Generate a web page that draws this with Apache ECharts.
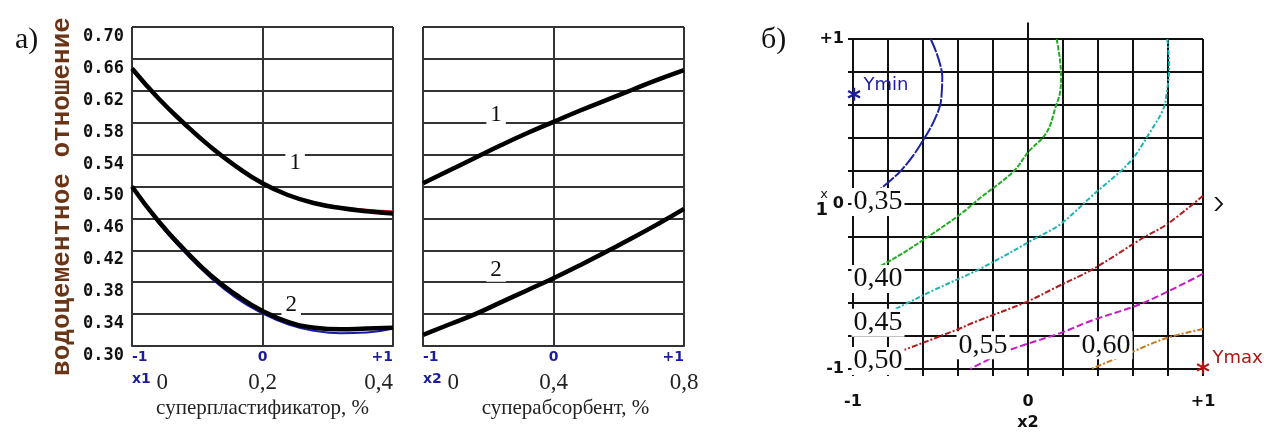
<!DOCTYPE html>
<html>
<head>
<meta charset="utf-8">
<script src="https://cdn.jsdelivr.net/npm/echarts@6/dist/echarts.min.js"></script>
<style>
html,body{margin:0;padding:0;background:#fff;}
#chart{width:1264px;height:436px;}
</style>
</head>
<body>
<div id="chart"></div>
<script>
// ---- data ----
const xs = [-1, -0.8, -0.6, -0.4, -0.2, 0, 0.2, 0.4, 0.6, 0.8, 1];
// panel a, left: superplasticizer
const spCurve1    = [0.648, 0.611, 0.579, 0.550, 0.525, 0.504, 0.489, 0.479, 0.473, 0.469, 0.466];
const spCurve1Fit = [0.648, 0.612, 0.580, 0.551, 0.526, 0.505, 0.490, 0.480, 0.474, 0.471, 0.469];
const spCurve2    = [0.500, 0.457, 0.421, 0.389, 0.364, 0.344, 0.330, 0.323, 0.321, 0.322, 0.323];
const spCurve2Fit = [0.500, 0.455, 0.418, 0.386, 0.360, 0.341, 0.327, 0.319, 0.316, 0.317, 0.322];
// panel a, right: superabsorbent
const saCurve1    = [0.504, 0.520, 0.536, 0.552, 0.567, 0.581, 0.595, 0.608, 0.621, 0.634, 0.646];
const saCurve1Fit = [0.503, 0.519, 0.535, 0.551, 0.566, 0.580, 0.594, 0.607, 0.620, 0.633, 0.646];
const saCurve2    = [0.314, 0.327, 0.340, 0.355, 0.370, 0.385, 0.401, 0.418, 0.435, 0.453, 0.472];
const saCurve2Fit = [0.314, 0.327, 0.341, 0.356, 0.371, 0.386, 0.402, 0.419, 0.436, 0.454, 0.472];

const curveNames = ['1', '2'];
const spCurveLabelX = [0.25, 0.22], spCurveLabelY = [0.529, 0.351];
const saCurveLabelX = [-0.44, -0.44], saCurveLabelY = [0.590, 0.395];

const codedTicks = [-1, 0, 1];
const codedTickLabels = ['-1', '0', '+1'];
const spNatural = ['0', '0,2', '0,4'];
const saNatural = ['0', '0,4', '0,8'];
const factorNames = ['x1', 'x2'];
const yTitle = 'водоцементное отношение';
const spTitle = 'суперпластификатор, %';
const saTitle = 'суперабсорбент, %';

// panel б: contour lines of W/C on (x2, x1)
const contourLevels = ['0,35', '0,40', '0,45', '0,50', '0,55', '0,60'];
const contourColors = ['#1c23a6', '#1fae1f', '#1db3b3', '#b01c1c', '#c21cc2', '#c77820'];
const c035 = [[-0.556,1.0],[-0.522,0.914],[-0.499,0.834],[-0.490,0.774],[-0.493,0.675],[-0.503,0.595],[-0.541,0.495],[-0.594,0.395],[-0.655,0.295],[-0.731,0.196],[-0.789,0.140],[-0.90,0.04],[-1.0,-0.06]];
const c040 = [[0.164,1.0],[0.182,0.88],[0.189,0.774],[0.183,0.675],[0.160,0.595],[0.107,0.435],[0.002,0.315],[-0.084,0.196],[-0.274,0.036],[-0.389,-0.064],[-0.579,-0.204],[-0.770,-0.333],[-1.0,-0.463]];
const c045 = [[0.796,1.0],[0.807,0.834],[0.793,0.675],[0.773,0.575],[0.697,0.435],[0.583,0.256],[0.373,0.056],[0.183,-0.124],[0.050,-0.204],[-0.274,-0.393],[-0.541,-0.523],[-0.713,-0.613],[-1.0,-0.762]];
const c050 = [[1.0,0.05],[0.793,-0.124],[0.659,-0.204],[0.373,-0.393],[0.164,-0.503],[-0.008,-0.593],[-0.312,-0.719],[-0.407,-0.762],[-0.703,-0.882],[-1.0,-0.995]];
const c055 = [[1.0,-0.423],[0.650,-0.603],[0.373,-0.703],[0.183,-0.783],[-0.122,-0.892],[-0.33,-1.0]];
const c060 = [[1.0,-0.758],[0.793,-0.812],[0.583,-0.902],[0.36,-1.0]];
const contours = [c035, c040, c045, c050, c055, c060];
const contourLabelX2 = [-0.857, -0.857, -0.857, -0.857, -0.257, 0.446];
const contourLabelX1 = [0.012, -0.455, -0.719, -0.952, -0.856, -0.856];
const extremeNames = ['Ymin', 'Ymax'];
const extremeX2 = [-0.994, 1.0];
const extremeX1 = [0.665, -0.99];
const extremeColors = ['#1c1ca0', '#b01414'];

// ---- helpers ----
const pair = arr => xs.map((x, i) => [x, arr[i]]);
const idxOf = (ticks, v) => ticks.findIndex(t => Math.abs(t - v) < 1e-6);
const codedFmt = v => { const i = idxOf(codedTicks, v); return i < 0 ? '' : codedTickLabels[i]; };
const asterisk = 'path://M-1,-6L1,-6L1,6L-1,6Z M4.7,3.87L-5.7,-2.13L-4.7,-3.87L5.7,2.13Z M-4.7,3.87L-5.7,2.13L4.7,-3.87L5.7,-2.13Z';
const chevron = 'path://M0,0L3,0L11,7L3,14L0,14L8,7Z';

const gridColA = '#333';
const gridColB = '#111';

function codedAxis(gi) {
  return {
    type: 'value', gridIndex: gi, min: -1, max: 1, interval: 1,
    axisLine: { show: true, lineStyle: { color: gridColA, width: 2 } },
    axisTick: { show: false },
    splitLine: { show: true, lineStyle: { color: gridColA, width: 2 } },
    axisLabel: { formatter: codedFmt, color: '#1c1c9e', fontFamily: 'DejaVu Sans', fontWeight: 'bold',
                 fontSize: 14, margin: 4, alignMinLabel: 'left', alignMaxLabel: 'right' }
  };
}
function naturalAxis(gi, nat, fname, title, alignMax, shift) {
  return {
    type: 'value', gridIndex: gi, min: -1, max: 1, interval: 1, position: 'bottom', offset: 22,
    axisLine: { show: false }, axisTick: { show: false }, splitLine: { show: false },
    axisLabel: {
      margin: 3, alignMinLabel: 'left', alignMaxLabel: alignMax,
      formatter: v => { const i = idxOf(codedTicks, v); if (i < 0) return '';
        return i === 0 ? '{f|' + fname + '}{n| ' + nat[0] + '}' : '{n|' + nat[i] + '}'; },
      rich: {
        f: { fontFamily: 'DejaVu Sans', fontWeight: 'bold', fontSize: 14, color: '#1c1c9e', padding: [0, 0, 6, 0] },
        n: { fontFamily: 'Liberation Serif', fontSize: 23, color: '#222' }
      }
    },
    name: title, nameLocation: 'middle', nameGap: 30, nameMoveOverlap: false,
    nameTextStyle: { fontFamily: 'Liberation Serif', fontSize: 21, color: '#222', padding: [0, 0, 0, shift] }
  };
}
function waterAxis(gi, withLabels) {
  const ax = {
    type: 'value', gridIndex: gi, min: 0.30, max: 0.70, interval: 0.04,
    axisLine: { show: true, lineStyle: { color: gridColA, width: 2 } },
    axisTick: { show: false },
    splitLine: { show: true, lineStyle: { color: gridColA, width: 2 } },
    axisLabel: { show: withLabels, formatter: v => v.toFixed(2), fontFamily: 'DejaVu Sans Mono', fontWeight: 'bold',
                 fontSize: 17, color: '#111', margin: 8, verticalAlign: 'top', padding: [1, 0, 0, 0] }
  };
  if (withLabels) {
    ax.name = yTitle; ax.nameLocation = 'middle'; ax.nameRotate = 90; ax.nameGap = 57;
    ax.nameMoveOverlap = false;
    ax.nameTextStyle = { fontFamily: 'Liberation Mono', fontWeight: 'bold', fontSize: 26, color: '#6a3416',
                         padding: [0, 20, 0, 0] };
  }
  return ax;
}
function fitLine(name, xi, yi, arr, color) {
  return { name, type: 'line', xAxisIndex: xi, yAxisIndex: yi, data: pair(arr), smooth: true,
           symbol: 'none', lineStyle: { color, width: 2 }, z: 3, silent: true };
}
function blackLine(name, xi, yi, arr) {
  return { name, type: 'line', xAxisIndex: xi, yAxisIndex: yi, data: pair(arr), smooth: true,
           symbol: 'none', lineStyle: { color: '#000', width: 4.5 }, z: 4, silent: true };
}
function numLabels(xi, yi, lx, ly) {
  return { type: 'scatter', xAxisIndex: xi, yAxisIndex: yi, symbolSize: 0, z: 6, silent: true,
    itemStyle: { opacity: 1 },
    data: curveNames.map((n, i) => [lx[i], ly[i], n]),
    label: { show: true, position: 'inside', formatter: p => p.value[2], fontFamily: 'Liberation Serif',
             fontSize: 23, color: '#111', backgroundColor: '#ffffff', padding: [0, 4] } };
}

const series = [
  fitLine('sp1fit', 0, 0, spCurve1Fit, '#e02020'),
  fitLine('sp2fit', 0, 0, spCurve2Fit, '#1a1aa8'),
  blackLine('sp1', 0, 0, spCurve1),
  blackLine('sp2', 0, 0, spCurve2),
  numLabels(0, 0, spCurveLabelX, spCurveLabelY),
  fitLine('sa1fit', 2, 1, saCurve1Fit, '#e02020'),
  fitLine('sa2fit', 2, 1, saCurve2Fit, '#1a1aa8'),
  blackLine('sa1', 2, 1, saCurve1),
  blackLine('sa2', 2, 1, saCurve2),
  numLabels(2, 1, saCurveLabelX, saCurveLabelY),
  // extended coordinate axes of panel б
  { type: 'line', xAxisIndex: 4, yAxisIndex: 2, clip: false, silent: true, z: 2,
    data: [[-1, 0], [1.09, 0]], lineStyle: { color: gridColB, width: 2 },
    symbol: (v, p) => p.dataIndex === 1 ? chevron : 'none', symbolSize: [9, 14],
    itemStyle: { color: gridColB, opacity: 1 } },
  { type: 'line', xAxisIndex: 4, yAxisIndex: 2, clip: false, silent: true, z: 2,
    data: [[0, -1], [0, 1.1]], lineStyle: { color: gridColB, width: 2 }, symbol: 'none' }
];
const dashes = [[14, 1.5], [5, 1.5], [5, 2, 2, 2], [6, 2, 2, 2], [7, 3], [6, 2, 2, 2]];
contours.forEach((c, i) => series.push({
  name: contourLevels[i], type: 'line', xAxisIndex: 4, yAxisIndex: 2, data: c, smooth: 0.35,
  symbol: 'none', z: 3, silent: true,
  lineStyle: { color: contourColors[i], width: 2, type: dashes[i] }
}));
series.push({
  type: 'scatter', xAxisIndex: 4, yAxisIndex: 2, symbolSize: 0, z: 8, silent: true,
  itemStyle: { opacity: 1 },
  data: contourLevels.map((t, i) => [contourLabelX2[i], contourLabelX1[i], t]),
  label: { show: true, position: 'inside', formatter: p => p.value[2], fontFamily: 'Liberation Serif',
           fontSize: 28, color: '#101010', backgroundColor: '#ffffff', padding: [0, 2], lineHeight: 28 }
});
extremeNames.forEach((n, i) => series.push({
  type: 'scatter', xAxisIndex: 4, yAxisIndex: 2, clip: false, z: 9, silent: true,
  symbol: asterisk, symbolSize: 13, itemStyle: { color: extremeColors[i], opacity: 1 },
  data: [[extremeX2[i], extremeX1[i], n]],
  label: { show: true, position: 'right', distance: 3, offset: [0, -9], formatter: p => p.value[2],
           fontFamily: 'DejaVu Sans', fontSize: 18, color: extremeColors[i] }
}));

const contourAxisLabel = {
  formatter: codedFmt, fontFamily: 'DejaVu Sans', fontWeight: 'bold', fontSize: 16, color: '#111'
};

const option = {
  backgroundColor: '#ffffff',
  animation: false,
  title: [
    { text: 'а)', left: 10, top: 20, textStyle: { fontFamily: 'Liberation Serif', fontSize: 30, fontWeight: 'normal', color: '#111' } },
    { text: 'б)', left: 756, top: 20, textStyle: { fontFamily: 'Liberation Serif', fontSize: 30, fontWeight: 'normal', color: '#111' } }
  ],
  grid: [
    { left: 132, top: 27, width: 261, height: 319 },
    { left: 423, top: 27, width: 261, height: 319 },
    { left: 853, top: 39, width: 350, height: 334 }
  ],
  xAxis: [
    codedAxis(0),
    naturalAxis(0, spNatural, factorNames[0], spTitle, 'right', 0),
    codedAxis(1),
    naturalAxis(1, saNatural, factorNames[1], saTitle, 'center', 24),
    { type: 'value', gridIndex: 2, min: -1, max: 1, interval: 0.2,
      axisLine: { show: true, onZero: false, lineStyle: { color: gridColB, width: 2 } },
      axisTick: { show: true, inside: false, length: 7, lineStyle: { color: gridColB, width: 2 } },
      splitLine: { show: true, lineStyle: { color: gridColB, width: 2 } },
      axisLabel: Object.assign({ margin: 25 }, contourAxisLabel),
      name: factorNames[1], nameLocation: 'middle', nameGap: 46, nameMoveOverlap: false,
      nameTextStyle: { fontFamily: 'DejaVu Sans', fontWeight: 'bold', fontSize: 16, color: '#111' } }
  ],
  yAxis: [
    waterAxis(0, true),
    waterAxis(1, false),
    { type: 'value', gridIndex: 2, min: -1, max: 1, interval: 0.2,
      axisLine: { show: true, onZero: false, lineStyle: { color: gridColB, width: 2 } },
      axisTick: { show: true, inside: false, length: 5, lineStyle: { color: gridColB, width: 2 } },
      splitLine: { show: true, lineStyle: { color: gridColB, width: 2 } },
      axisLabel: Object.assign({ margin: 9 }, contourAxisLabel),
      name: '{a|x}\n{b|1}', nameLocation: 'middle', nameRotate: 0, nameGap: 25, nameMoveOverlap: false,
      nameTextStyle: { rich: {
        a: { fontFamily: 'DejaVu Sans', fontSize: 13, color: '#111', lineHeight: 12 },
        b: { fontFamily: 'DejaVu Sans', fontWeight: 'bold', fontSize: 18, color: '#111', lineHeight: 18 } } } }
  ],
  series
};

const chart = echarts.init(document.getElementById('chart'), null, { renderer: 'canvas' });
chart.setOption(option);
</script>
</body>
</html>
